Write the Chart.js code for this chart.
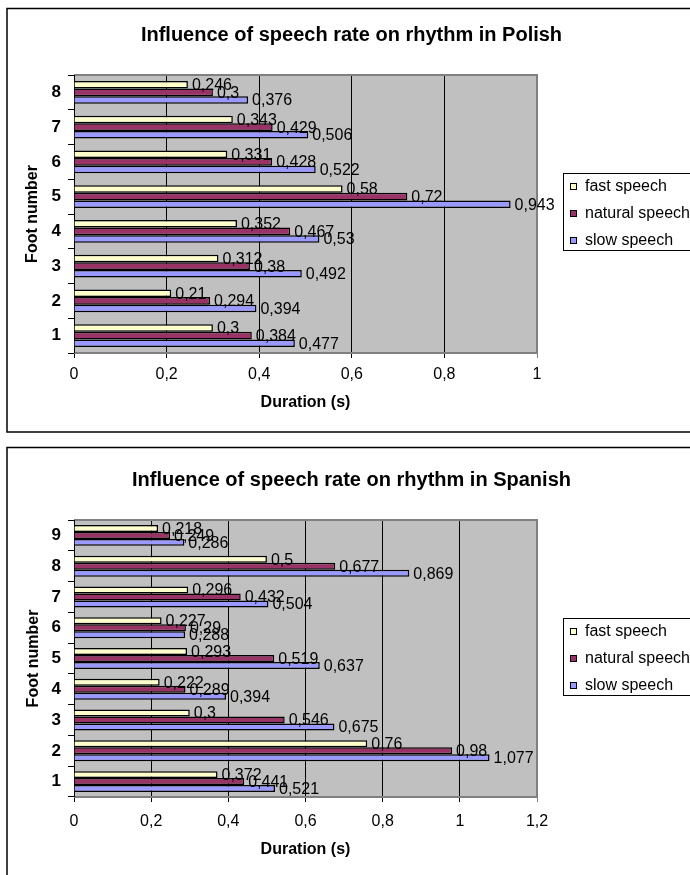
<!DOCTYPE html>
<html>
<head>
<meta charset="utf-8">
<script src="https://cdn.jsdelivr.net/npm/chart.js@4/dist/chart.umd.min.js"></script>
<style>
  html, body { margin: 0; padding: 0; background: #fff; overflow: hidden; }
  body { width: 690px; height: 875px; position: relative; }
  canvas { position: absolute; left: 0; }
  #polish { top: 0; }
  #spanish { top: 440px; }
</style>
</head>
<body>
<canvas id="polish" width="703" height="440"></canvas>
<canvas id="spanish" width="703" height="435"></canvas>
<script>
// Series names
const seriesNames = ['fast speech', 'natural speech', 'slow speech'];

// Polish: mean foot duration (s) per foot number
const polishFeet = ['1', '2', '3', '4', '5', '6', '7', '8'];
const polishFast = [0.3, 0.21, 0.312, 0.352, 0.58, 0.331, 0.343, 0.246];
const polishNatural = [0.384, 0.294, 0.38, 0.467, 0.72, 0.428, 0.429, 0.3];
const polishSlow = [0.477, 0.394, 0.492, 0.53, 0.943, 0.522, 0.506, 0.376];

// Spanish: mean foot duration (s) per foot number
const spanishFeet = ['1', '2', '3', '4', '5', '6', '7', '8', '9'];
const spanishFast = [0.372, 0.76, 0.3, 0.222, 0.293, 0.227, 0.296, 0.5, 0.218];
const spanishNatural = [0.441, 0.98, 0.546, 0.289, 0.519, 0.29, 0.432, 0.677, 0.249];
const spanishSlow = [0.521, 1.077, 0.675, 0.394, 0.637, 0.288, 0.504, 0.869, 0.286];

const FONT = "'Liberation Sans', Arial, sans-serif";
const fills = ['#FFFFCC', '#993366', '#9999FF'];

// decimal comma, as in the labels
function fmt(v) {
  return String(Number(v.toFixed(3))).replace('.', ',');
}

// white page, grey plot area and the outer chart box
const framePlugin = {
  id: 'frame',
  beforeDraw(chart, args, opts) {
    const { ctx, chartArea: a } = chart;
    ctx.save();
    ctx.fillStyle = '#fff';
    ctx.fillRect(0, 0, chart.width, chart.height);
    ctx.fillStyle = '#C0C0C0';
    ctx.fillRect(a.left, a.top, a.right - a.left, a.bottom - a.top);
    ctx.strokeStyle = '#000';
    ctx.lineWidth = 1.5;
    ctx.strokeRect(opts.x, opts.y, opts.w, opts.h);
    ctx.restore();
  },
  beforeDatasetsDraw(chart) {
    const { ctx, chartArea: a } = chart;
    ctx.save();
    ctx.strokeStyle = '#808080';
    ctx.lineWidth = 2;
    ctx.beginPath();
    ctx.moveTo(a.left, a.top);
    ctx.lineTo(a.right, a.top);
    ctx.lineTo(a.right, a.bottom);
    ctx.lineTo(a.left, a.bottom);
    ctx.stroke();
    ctx.strokeStyle = '#000';
    ctx.lineWidth = 1;
    ctx.beginPath();
    ctx.moveTo(a.left + 0.5, a.top);
    ctx.lineTo(a.left + 0.5, a.bottom);
    ctx.stroke();
    ctx.restore();
  }
};

// value labels just past the end of every bar
const valueLabels = {
  id: 'valueLabels',
  afterDatasetsDraw(chart) {
    const { ctx } = chart;
    ctx.save();
    ctx.font = '16px ' + FONT;
    ctx.fillStyle = '#000';
    ctx.textAlign = 'left';
    ctx.textBaseline = 'middle';
    chart.data.datasets.forEach((ds, i) => {
      chart.getDatasetMeta(i).data.forEach((bar, j) => {
        ctx.fillText(fmt(ds.data[j]), bar.x + 4, bar.y + 1);
      });
    });
    ctx.restore();
  }
};

// boxed legend to the right of the plot
const boxLegend = {
  id: 'boxLegend',
  afterDraw(chart) {
    const { ctx, chartArea: a } = chart;
    const cy = (a.top + a.bottom) / 2;
    const x0 = 563.5;
    ctx.save();
    ctx.strokeStyle = '#000';
    ctx.lineWidth = 1;
    ctx.strokeRect(x0, Math.round(cy - 41) + 0.5, 160, 77);
    ctx.font = '16px ' + FONT;
    ctx.textBaseline = 'middle';
    ctx.textAlign = 'left';
    chart.data.datasets.forEach((ds, i) => {
      const y = Math.round(cy + (i - 1) * 27);
      ctx.fillStyle = ds.backgroundColor;
      ctx.fillRect(570.5, y - 3.5, 6, 6);
      ctx.strokeRect(570.5, y - 3.5, 6, 6);
      ctx.fillStyle = '#000';
      ctx.fillText(ds.label, 585, y);
    });
    ctx.restore();
  }
};

function makeChart(id, cfg) {
  const datasets = cfg.series.map((data, i) => ({
    label: seriesNames[i],
    data: data,
    backgroundColor: fills[i],
    borderColor: '#000',
    borderWidth: 1.5,
    categoryPercentage: cfg.catPct,
    barPercentage: 1.0
  }));
  return new Chart(document.getElementById(id), {
    type: 'bar',
    data: { labels: cfg.labels, datasets: datasets },
    plugins: [framePlugin, valueLabels, boxLegend],
    options: {
      indexAxis: 'y',
      responsive: false,
      animation: false,
      devicePixelRatio: 1,
      layout: { padding: 0 },
      plugins: {
        legend: { display: false },
        tooltip: { enabled: false },
        frame: cfg.box,
        title: {
          display: true,
          text: cfg.title,
          color: '#000',
          font: { family: FONT, size: 20, weight: 'bold' },
          padding: { top: cfg.titleTop, bottom: cfg.titleBottom }
        }
      },
      scales: {
        x: {
          type: 'linear',
          min: 0,
          max: cfg.max,
          afterFit(s) { s.height = cfg.xHeight; },
          ticks: {
            stepSize: 0.2,
            padding: cfg.xTickPad,
            color: '#000',
            font: { family: FONT, size: 16 },
            callback: (v) => fmt(v)
          },
          grid: {
            color: (c) => (c.tick && Math.abs(c.tick.value - cfg.max) < 1e-9) ? '#808080' : '#000',
            lineWidth: 1,
            tickLength: 5
          },
          border: { display: false },
          title: {
            display: true,
            text: 'Duration (s)',
            color: '#000',
            font: { family: FONT, size: 16, weight: 'bold' },
            padding: { top: 0, bottom: cfg.xTitlePad }
          }
        },
        y: {
          reverse: true,
          afterFit(s) { s.width = 74; },
          ticks: {
            padding: 7,
            color: '#000',
            font: { family: FONT, size: 17, weight: 'bold' }
          },
          grid: {
            drawOnChartArea: false,
            color: '#000',
            tickLength: 6
          },
          border: { display: false },
          title: {
            display: true,
            text: 'Foot number',
            color: '#000',
            font: { family: FONT, size: 16, weight: 'bold' },
            padding: { top: cfg.yTitlePad, bottom: 0 }
          }
        },
        // empty band on the right that holds the legend
        legendSpace: {
          type: 'linear',
          position: 'right',
          afterFit(s) { s.width = 166; },
          ticks: { display: false },
          grid: { display: false, drawTicks: false },
          border: { display: false }
        }
      }
    }
  });
}

makeChart('polish', {
  title: 'Influence of speech rate on rhythm in Polish',
  labels: polishFeet,
  series: [polishFast, polishNatural, polishSlow],
  max: 1,
  catPct: 0.66,
  box: { x: 7, y: 8.5, w: 689, h: 423.5 },
  titleTop: 23,
  titleBottom: 28,
  xHeight: 87,
  xTickPad: 7.4,
  xTitlePad: 27.4,
  yTitlePad: 23.4
});

makeChart('spanish', {
  title: 'Influence of speech rate on rhythm in Spanish',
  labels: spanishFeet,
  series: [spanishFast, spanishNatural, spanishSlow],
  max: 1.2,
  catPct: 0.68,
  box: { x: 7, y: 7.5, w: 689, h: 600 },
  titleTop: 28,
  titleBottom: 28,
  xHeight: 78,
  xTickPad: 10.4,
  xTitlePad: 15.4,
  yTitlePad: 24.4
});
</script>
</body>
</html>
